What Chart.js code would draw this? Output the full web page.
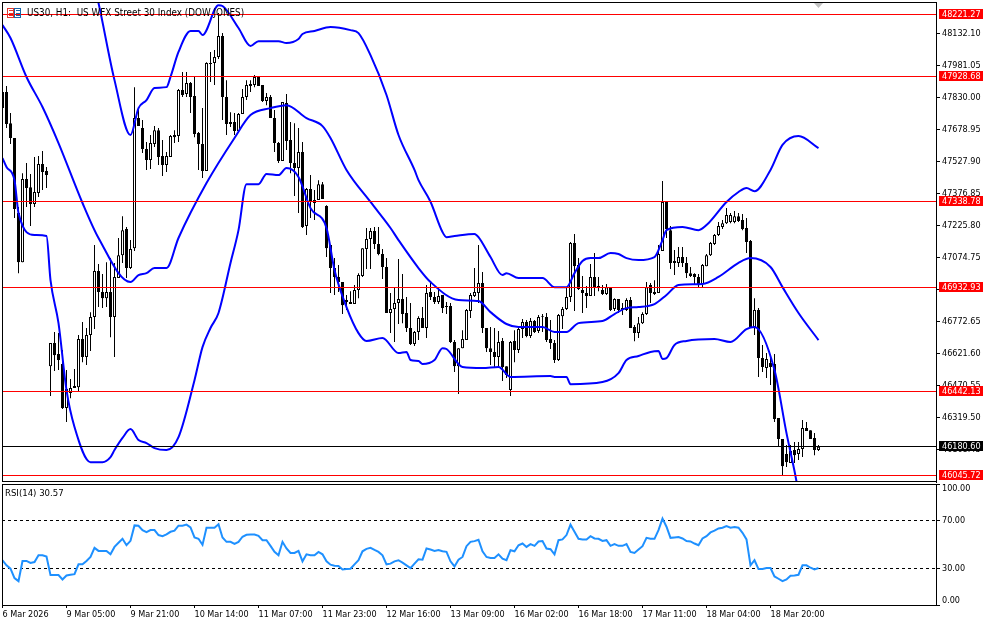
<!DOCTYPE html>
<html>
<head>
<meta charset="utf-8">
<title>US30 H1</title>
<script src="https://cdn.jsdelivr.net/npm/chart.js@4/dist/chart.umd.min.js"></script>
<style>
  html, body { margin: 0; padding: 0; background: #fff; overflow: hidden; }
  canvas { position: absolute; left: 0; }
  #priceChart { top: 0; }
  #rsiChart { top: 482px; }
</style>
</head>
<body>
<canvas id="priceChart" width="994" height="484"></canvas>
<canvas id="rsiChart" width="994" height="144"></canvas>
<script>
const chartTitle = 'US30, H1:  US WFX Street 30 Index (DOW JONES)';
const rsiTitle = 'RSI(14) 30.57';

const openPrices = [
  47856,47856,47709,47639,47285,47053,47445,47407,47327,47379,
  47516,47483,46562,46671,46619,46572,46364,46435,46468,46463,
  46690,46605,46709,46794,47011,46912,46883,46912,46794,46978,
  47086,47209,47025,47119,47733,47686,47587,47535,47610,47676,
  47554,47511,47549,47653,47648,47865,47846,47898,47837,47662,
  47610,47483,47988,47993,48021,48120,47832,47705,47714,47672,
  47752,47832,47894,47889,47927,47889,47813,47832,47733,47615,
  47530,47804,47629,47521,47497,47573,47223,47398,47332,47346,
  47421,47318,47134,47025,46983,46959,46874,46865,46855,46921,
  46987,47115,47162,47200,47138,47091,47030,46813,46832,46860,
  46879,46813,46742,46666,46723,46789,46742,46912,46888,46865,
  46898,46841,46846,46676,46562,46647,46685,46822,46893,46907,
  46954,46742,46647,46629,46605,46681,46562,46449,46681,46638,
  46737,46770,46704,46775,46728,46798,46794,46690,46671,46591,
  46798,46832,46888,47143,47039,46921,46907,46893,46983,46940,
  46921,46902,46931,46832,46879,46827,46827,46874,46747,46718,
  46765,46808,46945,46912,46907,47105,47337,47204,47058,47049,
  47077,47049,47001,46997,46983,46950,47034,47086,47138,47181,
  47219,47237,47242,47242,47270,47252,47214,47153,46747,46827,
  46600,46553,46577,46572,46317,46218,46147,46105,46166,46147,
  46171,46270,46260,46223,46166
];
const highPrices = [
  47884,47884,47757,47639,47313,47473,47521,47469,47549,47554,
  47577,47502,46671,46723,46718,46638,46544,46501,46548,46709,
  46770,46742,46817,47134,47044,46997,47053,47072,47049,47167,
  47270,47219,47157,47879,47776,47724,47620,47653,47695,47686,
  47629,47573,47653,47676,47870,47950,47950,47903,47927,47667,
  47780,47997,48045,48054,48229,48134,47912,47761,47757,47757,
  47870,47912,47912,47936,47931,47889,47851,47842,47771,47620,
  47809,47846,47714,47709,47686,47620,47403,47464,47393,47440,
  47431,47322,47134,47072,47039,46959,46898,46916,46945,47001,
  47119,47214,47214,47219,47219,47115,47072,46907,46931,47068,
  46997,46888,46860,46728,46798,46841,46945,46959,46912,46935,
  46898,46865,46860,46685,46647,46732,46832,46907,47025,47134,
  47006,46742,46747,46742,46728,46695,46562,46681,46732,46742,
  46784,46780,46789,46780,46803,46808,46813,46780,46685,46808,
  46841,46935,47148,47186,47072,46987,46940,47044,47096,46983,
  46945,46950,46931,46883,46879,46860,46883,46888,46756,46794,
  46817,46959,46954,46968,47134,47436,47337,47223,47110,47124,
  47124,47077,47030,47001,46997,47044,47091,47148,47186,47242,
  47252,47308,47285,47294,47285,47280,47261,47157,46883,46836,
  46662,46624,46600,46619,46317,46218,46190,46190,46204,46204,
  46308,46298,46260,46246,46190
];
const lowPrices = [
  47775,47686,47610,47261,47001,47053,47313,47223,47313,47360,
  47393,47403,46421,46539,46544,46360,46298,46411,46459,46444,
  46581,46567,46633,46737,46841,46836,46841,46699,46605,46978,
  47049,46978,47020,47105,47695,47568,47488,47492,47596,47511,
  47459,47478,47549,47615,47620,47832,47832,47757,47643,47488,
  47450,47483,47903,47889,48012,47724,47653,47691,47653,47667,
  47752,47818,47856,47879,47884,47809,47794,47733,47573,47521,
  47530,47582,47473,47365,47285,47214,47181,47261,47252,47346,
  47351,47077,46907,46898,46912,46808,46827,46855,46855,46883,
  46983,47020,47020,47115,47086,46973,46813,46718,46676,46761,
  46765,46723,46662,46657,46685,46742,46695,46874,46855,46855,
  46813,46808,46671,46534,46430,46647,46685,46789,46888,46860,
  46718,46629,46567,46558,46558,46492,46506,46421,46581,46624,
  46695,46699,46695,46718,46718,46723,46676,46643,46577,46586,
  46737,46827,46865,46822,46921,46813,46836,46893,46893,46916,
  46898,46898,46822,46822,46813,46803,46822,46742,46680,46695,
  46761,46803,46860,46898,46907,47105,47167,47020,46992,47030,
  47030,46978,46983,46950,46935,46935,47034,47082,47134,47176,
  47209,47233,47237,47237,47242,47204,47096,46747,46709,46511,
  46534,46506,46473,46298,46180,46048,46086,46105,46105,46119,
  46133,46256,46218,46142,46161
];
const closePrices = [
  47780,47705,47639,47304,47053,47445,47403,47327,47384,47516,
  47478,47464,46671,46614,46591,46364,46454,46459,46459,46690,
  46605,46709,46794,47011,46912,46883,46912,46794,46983,47086,
  47204,47025,47115,47733,47695,47587,47535,47615,47676,47549,
  47511,47554,47648,47643,47865,47842,47898,47832,47658,47610,
  47483,47993,47993,48021,48120,47832,47705,47714,47672,47752,
  47832,47889,47884,47927,47884,47813,47832,47733,47615,47530,
  47809,47625,47521,47497,47573,47219,47398,47337,47346,47421,
  47351,47119,47025,46983,46959,46850,46865,46855,46921,46992,
  47119,47162,47200,47138,47091,47030,46813,46832,46860,46879,
  46808,46742,46666,46723,46789,46742,46907,46888,46865,46893,
  46836,46846,46676,46562,46647,46690,46827,46898,46912,46954,
  46742,46647,46629,46605,46676,46558,46520,46676,46638,46737,
  46770,46704,46775,46723,46794,46794,46685,46671,46591,46803,
  46832,46888,47143,47034,46926,46907,46893,46983,46935,46935,
  46902,46935,46827,46879,46827,46836,46874,46742,46718,46765,
  46808,46935,46907,46902,47091,47337,47209,47049,47049,47077,
  47049,47001,46987,46983,46950,47039,47086,47143,47181,47223,
  47237,47275,47275,47270,47247,47209,47148,46747,46827,46600,
  46558,46596,46558,46312,46218,46090,46109,46161,46142,46171,
  46270,46256,46218,46166,46181
];

// bollinger bands, read at the corners of each line (bar number, price)
const upperBars = [22,24,28,32,34,36,38,41,42,44,47,49,50,54,55,59,62,64,69,71,74,75,78,82,87,89,92,96,99,103,104,107,110,111,113,118,119,122,125,126,129,135,138,141,143,145,147,149,152,154,156,159,163,165,166,170,174,176,181,184,186,188,192,195,199,204];
const upperBand = [48432,48276,47912,47653,47780,47818,47875,47879,47927,48045,48144,48144,48125,48266,48262,48158,48073,48096,48096,48087,48106,48130,48144,48163,48148,48134,48030,47842,47653,47488,47440,47338,47195,47171,47176,47186,47171,47077,46992,47001,46978,46978,46935,46935,47001,47058,47072,47072,47096,47091,47072,47063,47077,47157,47204,47219,47204,47228,47337,47384,47403,47388,47488,47606,47648,47591];
const middleBars = [0,2,6,10,14,20,24,32,34,36,38,41,44,51,58,62,67,71,76,80,82,86,92,97,99,104,107,114,119,122,126,129,135,138,141,144,150,153,156,159,163,166,169,175,179,184,187,192,195,199,204];
const middleBand = [48172,48111,47927,47785,47615,47332,47167,46959,46992,47001,47025,47025,47167,47426,47639,47747,47780,47794,47733,47695,47639,47488,47337,47214,47157,47025,46959,46874,46869,46817,46761,46747,46747,46723,46723,46765,46775,46808,46836,46841,46855,46898,46945,46950,46983,47049,47072,47030,46935,46813,46685];
const lowerBars = [0,1,3,4,8,11,12,14,16,18,22,25,27,28,30,32,34,36,38,41,44,48,50,52,54,57,59,61,64,66,69,71,74,77,81,83,86,89,91,95,99,101,102,104,105,108,110,111,115,120,124,127,137,138,141,142,150,154,156,159,162,164,165,166,168,171,178,182,186,188,193,196,198,199];
const lowerBand = [47544,47502,47440,47285,47181,47176,46968,46765,46449,46275,46109,46109,46133,46166,46223,46265,46213,46199,46175,46166,46227,46496,46652,46742,46813,47049,47204,47421,47421,47469,47464,47497,47455,47308,47214,47016,46841,46718,46681,46695,46624,46629,46591,46586,46572,46591,46647,46643,46558,46553,46558,46511,46515,46511,46511,46477,46487,46529,46591,46610,46629,46633,46596,46600,46662,46681,46690,46676,46737,46747,46544,46246,46067,45968];

const rsiValues = [
  36.9,32.8,30.0,22.2,19.7,36.4,36.4,34.7,35.5,41.1,
  41.1,40.0,24.7,24.7,24.7,21.1,24.4,25.0,25.5,33.6,
  33.6,36.4,39.7,47.2,44.7,44.7,44.7,41.9,48.0,51.4,
  54.7,49.4,53.0,65.8,65.5,61.9,60.3,61.9,61.9,57.8,
  56.9,58.3,60.5,61.4,65.5,65.5,66.4,64.2,55.8,54.7,
  49.7,63.9,63.9,63.9,66.7,55.8,52.2,52.2,50.5,52.2,
  56.4,58.0,58.3,58.3,57.2,53.6,53.6,48.9,43.9,41.1,
  52.2,46.7,43.0,43.0,44.7,36.1,41.9,41.1,41.1,43.9,
  41.9,36.1,33.3,32.5,32.2,29.4,29.7,30.0,33.6,37.0,
  44.4,46.4,47.2,45.5,43.9,41.1,33.6,34.2,36.1,37.0,
  35.0,32.8,30.5,34.2,37.8,37.5,46.7,45.8,44.7,45.5,
  44.4,43.9,36.1,31.9,37.5,39.7,48.6,52.2,52.8,53.9,
  44.4,39.7,38.9,38.9,41.9,38.3,37.0,45.3,44.4,49.4,
  50.8,48.0,50.3,48.9,52.5,52.8,46.7,46.1,41.9,53.6,
  54.2,57.8,66.4,60.5,54.7,54.2,54.2,56.9,55.0,54.7,
  53.0,53.6,48.9,50.3,48.9,48.9,50.3,43.9,43.0,45.8,
  48.6,55.5,54.7,54.7,61.9,71.4,64.7,55.5,55.8,56.1,
  55.0,52.8,52.5,50.8,49.4,55.0,56.9,60.0,61.4,63.3,
  63.9,65.3,63.9,64.4,63.9,59.7,54.2,32.8,37.0,29.7,
  29.7,30.5,30.5,23.6,21.7,19.7,21.1,24.2,24.4,25.0,
  32.8,32.8,30.8,29.4,30.57
];

const redLevels = [48221.27, 47928.68, 47338.78, 46932.93, 46442.13, 46045.72];
const lastPrice = 46180.60;

const priceTicks = [48132.10, 47981.05, 47830.00, 47678.95, 47527.90, 47376.85, 47225.80, 47074.75, 46923.70, 46772.65, 46621.60, 46470.55, 46319.50, 46168.45];
const rsiTicks = [100, 70, 30, 0];
const rsiLevels = [70, 30];
const timeTickBars = [0, 16, 32, 48, 64, 80, 96, 112, 128, 144, 160, 176, 192];
const timeTickLabels = ['6 Mar 2026', '9 Mar 05:00', '9 Mar 21:00', '10 Mar 14:00', '11 Mar 07:00', '11 Mar 23:00', '12 Mar 16:00', '13 Mar 09:00', '16 Mar 02:00', '16 Mar 18:00', '17 Mar 11:00', '18 Mar 04:00', '18 Mar 20:00'];

const BLUE = '#0000ff';
const RED = '#ff0000';
const RSI_BLUE = '#1e90ff';
const FONT_FAMILY = '"DejaVu Sans Condensed", "DejaVu Sans", sans-serif';
const FONT_SIZE = 9;
const FONT = FONT_SIZE + 'px ' + FONT_FAMILY;

// one bar is 4px, chart area runs from x=2 to x=936
const xMin = -0.125;
const xMax = 233.375;

const points = (bars, values) => bars.map((bar, i) => ({ x: bar, y: values[i] }));

function bandDataset(bars, values) {
  return {
    type: 'line',
    data: points(bars, values),
    borderColor: BLUE,
    borderWidth: 2,
    pointRadius: 0,
    cubicInterpolationMode: 'monotone',
    order: 1
  };
}

function crisp(v) {
  return Math.floor(v) + 0.5;
}

// y axis labels must not push the chart area in
function noLabelPadding(scale) {
  scale.paddingTop = 0;
  scale.paddingBottom = 0;
  scale.paddingLeft = 0;
  scale.paddingRight = 0;
}

function drawFrame(chart, bottomRow) {
  const ctx = chart.ctx;
  const area = chart.chartArea;
  ctx.save();
  ctx.strokeStyle = '#000';
  ctx.lineWidth = 1;
  const top = area.top + 0.5;
  ctx.strokeRect(2.5, top, 934, bottomRow + 0.5 - top);
  ctx.restore();
}

const priceOverlay = {
  id: 'priceOverlay',
  afterDatasetsDraw(chart) {
    const ctx = chart.ctx;
    const area = chart.chartArea;
    const y = chart.scales.y;
    ctx.save();
    ctx.lineWidth = 1;
    redLevels.forEach(level => {
      const py = crisp(y.getPixelForValue(level));
      ctx.strokeStyle = RED;
      ctx.beginPath();
      ctx.moveTo(area.left, py);
      ctx.lineTo(area.right, py);
      ctx.stroke();
    });
    const lastY = crisp(y.getPixelForValue(lastPrice));
    ctx.strokeStyle = '#000';
    ctx.beginPath();
    ctx.moveTo(area.left, lastY);
    ctx.lineTo(area.right, lastY);
    ctx.stroke();
    ctx.restore();
  },
  afterDraw(chart) {
    const ctx = chart.ctx;
    const y = chart.scales.y;
    drawFrame(chart, 481);
    ctx.save();
    ctx.font = FONT;
    ctx.textBaseline = 'middle';
    ctx.textAlign = 'left';
    // price tags on the axis
    const tag = (value, color) => {
      const py = crisp(y.getPixelForValue(value));
      ctx.fillStyle = color;
      ctx.fillRect(939, py - 5.5, 44, 10);
      ctx.fillStyle = '#fff';
      ctx.fillText(value.toFixed(2), 942, py);
    };
    redLevels.forEach(level => tag(level, RED));
    tag(lastPrice, '#000');
    // terminal icon and title
    ctx.strokeStyle = '#e0352b';
    ctx.strokeRect(7.5, 8.5, 6, 9);
    ctx.fillStyle = '#e0352b';
    [10, 13, 15].forEach(py => ctx.fillRect(9, py, 4, 1));
    ctx.strokeStyle = '#1565a8';
    ctx.strokeRect(14.5, 8.5, 6, 9);
    ctx.fillStyle = '#1565a8';
    [10, 13, 15].forEach(py => ctx.fillRect(16, py, 4, 1));
    ctx.fillStyle = '#000';
    ctx.font = '9.8px ' + FONT_FAMILY;
    ctx.fillText(chartTitle, 27, 13.5);
    // shift marker at the top of the chart
    ctx.fillStyle = '#c0c0c0';
    ctx.beginPath();
    ctx.moveTo(814, 3);
    ctx.lineTo(823, 3);
    ctx.lineTo(818.5, 8);
    ctx.closePath();
    ctx.fill();
    ctx.restore();
  }
};

const rsiOverlay = {
  id: 'rsiOverlay',
  beforeDatasetsDraw(chart) {
    const ctx = chart.ctx;
    const area = chart.chartArea;
    const y = chart.scales.y;
    ctx.save();
    ctx.strokeStyle = '#000';
    ctx.lineWidth = 1;
    ctx.setLineDash([3, 3]);
    rsiLevels.forEach(level => {
      const py = crisp(y.getPixelForValue(level));
      ctx.beginPath();
      ctx.moveTo(area.left, py);
      ctx.lineTo(area.right, py);
      ctx.stroke();
    });
    ctx.restore();
  },
  afterDraw(chart) {
    const ctx = chart.ctx;
    const y = chart.scales.y;
    drawFrame(chart, 123);
    ctx.save();
    ctx.font = FONT;
    ctx.textBaseline = 'middle';
    ctx.textAlign = 'left';
    ctx.fillStyle = '#000';
    // top and bottom labels sit inside the scale range
    ctx.fillText('100.00', 942, y.getPixelForValue(100) + 4.5);
    ctx.fillText('0.00', 942, y.getPixelForValue(0) - 4.5);
    ctx.font = '9.5px ' + FONT_FAMILY;
    ctx.fillText(rsiTitle, 5, 11.5);
    ctx.restore();
  }
};

new Chart(document.getElementById('priceChart').getContext('2d'), {
  type: 'bar',
  plugins: [priceOverlay],
  data: {
    datasets: [
      {
        // wicks
        data: openPrices.map((_, i) => ({ x: i, y: [lowPrices[i], highPrices[i]] })),
        backgroundColor: '#000',
        barThickness: 1,
        borderWidth: 0,
        grouped: false,
        inflateAmount: 0,
        order: 3
      },
      {
        // bodies
        data: openPrices.map((open, i) => ({ x: i, y: [open, closePrices[i]] })),
        backgroundColor: openPrices.map((open, i) => closePrices[i] >= open ? '#fff' : '#000'),
        borderColor: '#000',
        borderWidth: 1,
        borderSkipped: false,
        barThickness: 3,
        grouped: false,
        inflateAmount: 0,
        order: 2
      },
      bandDataset(upperBars, upperBand),
      bandDataset(middleBars, middleBand),
      bandDataset(lowerBars, lowerBand)
    ]
  },
  options: {
    responsive: false,
    animation: false,
    devicePixelRatio: 1,
    events: [],
    layout: { padding: { left: 2, top: 2, right: 0, bottom: 2 } },
    plugins: { legend: { display: false }, tooltip: { enabled: false } },
    scales: {
      x: { type: 'linear', display: false, min: xMin, max: xMax, offset: false },
      y: {
        position: 'right',
        min: 46015.2,
        max: 48280.8,
        afterFit: scale => { scale.width = 58; noLabelPadding(scale); },
        afterBuildTicks: scale => { scale.ticks = priceTicks.map(v => ({ value: v })); },
        border: { color: '#000', width: 1 },
        grid: { drawOnChartArea: false, tickLength: 4, tickColor: '#000' },
        ticks: {
          autoSkip: false,
          color: '#000',
          padding: 2,
          font: { family: FONT_FAMILY, size: FONT_SIZE },
          callback: v => Number(v).toFixed(2)
        }
      }
    }
  }
});

new Chart(document.getElementById('rsiChart').getContext('2d'), {
  type: 'line',
  plugins: [rsiOverlay],
  data: {
    datasets: [{
      data: rsiValues.map((v, i) => ({ x: i, y: v })),
      borderColor: RSI_BLUE,
      borderWidth: 2,
      pointRadius: 0,
      tension: 0
    }]
  },
  options: {
    responsive: false,
    animation: false,
    devicePixelRatio: 1,
    events: [],
    layout: { padding: { left: 2, top: 2, right: 0, bottom: 0 } },
    plugins: { legend: { display: false }, tooltip: { enabled: false } },
    scales: {
      x: {
        type: 'linear',
        min: xMin,
        max: xMax,
        offset: false,
        afterFit: scale => { scale.height = 21; noLabelPadding(scale); },
        afterBuildTicks: scale => { scale.ticks = timeTickBars.map(v => ({ value: v })); },
        border: { color: '#000', width: 1 },
        grid: { drawOnChartArea: false, tickLength: 3, tickColor: '#000' },
        ticks: {
          autoSkip: false,
          maxRotation: 0,
          minRotation: 0,
          align: 'start',
          color: '#000',
          padding: 1,
          font: { family: FONT_FAMILY, size: FONT_SIZE },
          callback: v => timeTickLabels[timeTickBars.indexOf(v)]
        }
      },
      y: {
        position: 'right',
        min: 0,
        max: 100,
        afterFit: scale => { scale.width = 58; noLabelPadding(scale); },
        afterBuildTicks: scale => { scale.ticks = rsiTicks.map(v => ({ value: v })); },
        border: { color: '#000', width: 1 },
        grid: { drawOnChartArea: false, tickLength: 4, tickColor: '#000' },
        ticks: {
          autoSkip: false,
          color: '#000',
          padding: 2,
          font: { family: FONT_FAMILY, size: FONT_SIZE },
          callback: v => (v === 100 || v === 0) ? '' : Number(v).toFixed(2)
        }
      }
    }
  }
});
</script>
</body>
</html>
